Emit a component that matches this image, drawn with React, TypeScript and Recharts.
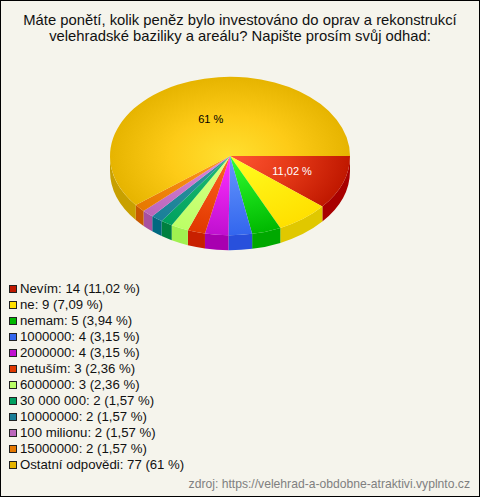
import { PieChart, Pie, Legend } from 'recharts';

const categories = ['Nevím', 'ne', 'nemam', '1000000', '2000000', 'netuším', '6000000', '30 000 000', '10000000', '100 milionu', '15000000', 'Ostatní odpovědi'];
const counts = [14, 9, 5, 4, 4, 3, 3, 2, 2, 2, 2, 77];
const shares = ['11,02 %', '7,09 %', '3,94 %', '3,15 %', '3,15 %', '2,36 %', '2,36 %', '1,57 %', '1,57 %', '1,57 %', '1,57 %', '61 %'];

const glow = ['#ff5533', '#ffff22', '#33ff33', '#6699ff', '#ff33ff', '#ff6622', '#ddff88', '#22bb77', '#339999', '#dd88dd', '#ff9922', '#ffe030'];
const mid = ['#e63a18', '#ffee10', '#18dc18', '#4d7ff5', '#e020e8', '#f04e10', '#ccff77', '#10b068', '#268c99', '#cc77cc', '#f48810', '#fdcb17'];
const rim = ['#c01800', '#ffe000', '#00b800', '#3366ee', '#c010d0', '#e03800', '#bbff66', '#00a060', '#1a7f99', '#bb66bb', '#e67800', '#e6b400'];
const wall = ['#a80000', '#e0c800', '#00a800', '#2850dc', '#a800b0', '#c82000', '#a0f050', '#008040', '#006880', '#a850a0', '#c85800', '#c8a000'];
const labelStyles: Record<string, { color: string; at: number }> = {
  'Nevím': { color: '#ffffff', at: 0.55 },
  'Ostatní odpovědi': { color: '#000000', at: 0.49 },
};

const data = categories.map((name, i) => ({ name, value: counts[i], share: shares[i], fill: rim[i], mid: mid[i], glow: glow[i], wall: wall[i] }));

const SQUASH = 0.66;
const DEPTH = 15;
const font = '"Liberation Sans", Arial, sans-serif';

const pt = (cx: number, cy: number, r: number, deg: number) => {
  const a = (deg * Math.PI) / 180;
  return [cx + r * Math.cos(a), cy + r * SQUASH * Math.sin(a)];
};

function TopFace(props: any) {
  const { cx, cy, outerRadius: r, startAngle, endAngle, payload, index } = props;
  const t0 = -startAngle;
  const t1 = -endAngle;
  const [x0, y0] = pt(cx, cy, r, t0);
  const [x1, y1] = pt(cx, cy, r, t1);
  const big = t1 - t0 > 180 ? 1 : 0;
  const id = `top-${index}`;
  return (
    <g>
      <defs>
        <radialGradient id={id} gradientUnits="userSpaceOnUse" cx={cx} cy={cy} r={r}
          gradientTransform={`translate(${cx} ${cy}) scale(1 ${SQUASH}) translate(${-cx} ${-cy})`}>
          <stop offset="0%" stopColor={payload.glow} />
          <stop offset="50%" stopColor={payload.mid} />
          <stop offset="100%" stopColor={payload.fill} />
        </radialGradient>
      </defs>
      <path d={`M${cx},${cy} L${x0},${y0} A${r},${r * SQUASH} 0 ${big} 1 ${x1},${y1} Z`} fill={`url(#${id})`} />
    </g>
  );
}

function SideWall(props: any) {
  const { cx, cy, outerRadius: r, startAngle, endAngle, payload } = props;
  const t0 = Math.max(-startAngle, 0);
  const t1 = Math.min(-endAngle, 180);
  if (t1 <= t0) return null;
  const [x0, y0] = pt(cx, cy, r, t0);
  const [x1, y1] = pt(cx, cy, r, t1);
  const ry = r * SQUASH;
  return (
    <path
      d={`M${x0},${y0} A${r},${ry} 0 0 1 ${x1},${y1} L${x1},${y1 + DEPTH} A${r},${ry} 0 0 0 ${x0},${y0 + DEPTH} Z`}
      fill={payload.wall}
    />
  );
}

function SliceLabel(props: any) {
  const { cx, cy, outerRadius: r, midAngle, payload } = props;
  const style = labelStyles[payload.name];
  if (!style) return null;
  const [x, y] = pt(cx, cy, r * style.at, -midAngle);
  return (
    <text x={x} y={y} textAnchor="middle" dominantBaseline="central" fill={style.color} fontSize={11} fontFamily={font}>
      {payload.share}
    </text>
  );
}

function LegendList({ payload }: any) {
  // both pies report their items, keep one set
  const items = (payload || []).filter((item: any, i: number, all: any[]) => all.findIndex((o) => o.value === item.value) === i);
  return (
    <div style={{ fontFamily: font, fontSize: 13.2, color: '#111', lineHeight: '16px' }}>
      {items.map((item: any) => (
        <div key={item.value} style={{ display: 'flex', alignItems: 'center', height: 16 }}>
          <span style={{ width: 6, height: 6, background: item.payload.fill, border: '1px solid #222', marginRight: 3, flex: 'none' }} />
          <span style={{ whiteSpace: 'pre' }}>{item.value}: {item.payload.value} ({item.payload.share})</span>
        </div>
      ))}
    </div>
  );
}

export default function App() {
  return (
    <div style={{ position: 'relative', width: 480, height: 497, background: '#f5f4ec', fontFamily: font, overflow: 'hidden' }}>
      <style>{'body{margin:0}'}</style>
      <PieChart width={480} height={497} margin={{ top: 0, right: 0, bottom: 0, left: 0 }} style={{ position: 'absolute', left: 0, top: 0 }}>
        <Pie data={data} dataKey="value" nameKey="name" cx={230} cy={156} outerRadius={120} startAngle={0} endAngle={-360}
          legendType="none" shape={SideWall} label={false} isAnimationActive={false} />
        <Pie data={data} dataKey="value" nameKey="name" cx={230} cy={156} outerRadius={120} startAngle={0} endAngle={-360}
          shape={TopFace} label={SliceLabel} labelLine={false} isAnimationActive={false} />
        <Legend layout="vertical" align="center" verticalAlign="middle" content={LegendList} itemSorter={null}
          wrapperStyle={{ left: 9, top: 281, width: 300 }} />
      </PieChart>
      <div style={{ position: 'absolute', left: 0, top: 12, width: 480, textAlign: 'center', fontSize: 14.8, lineHeight: '16px', color: '#111' }}>
        Máte ponětí, kolik peněz bylo investováno do oprav a rekonstrukcí<br />velehradské baziliky a areálu? Napište prosím svůj odhad:
      </div>
      <div style={{ position: 'absolute', right: 10, top: 477, fontSize: 12.15, lineHeight: '14px', color: '#808080' }}>
        zdroj: https://velehrad-a-obdobne-atraktivi.vyplnto.cz
      </div>
      <div style={{ position: 'absolute', inset: 0, border: '1px solid #000', pointerEvents: 'none' }} />
    </div>
  );
}
